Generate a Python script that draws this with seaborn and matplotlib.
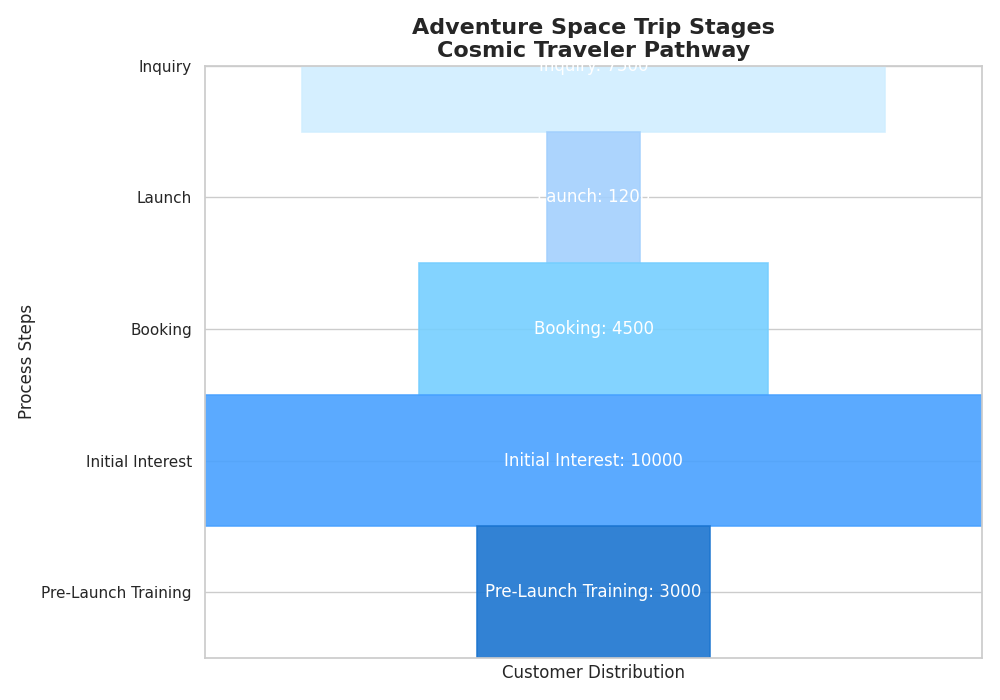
import matplotlib
matplotlib.use("Agg")
import matplotlib.pyplot as plt
import seaborn as sns
import pandas as pd

stages = ["Inquiry", "Launch", "Booking", "Initial Interest", "Pre-Launch Training"]
customers = [7500, 1200, 4500, 10000, 3000]
colors = ["#D1EEFF", "#A3D0FD", "#76CFFF", "#49A1FF", "#1C75D0"]

df = pd.DataFrame({"stage": stages, "customers": customers})

sns.set_theme(style="whitegrid")
plt.rcParams['font.family'] = ['DejaVu Sans']

fig, ax = plt.subplots(figsize=(10, 7), dpi=100)
fig.subplots_adjust(left=0.205, right=0.982, top=0.906, bottom=0.06)

sns.barplot(data=df, x="customers", y="stage", hue="stage", palette=colors,
            order=stages, orient="h", width=1.0, alpha=0.9, saturation=1,
            legend=False, ax=ax)

# center each bar to get the funnel shape
for patch, col in zip(ax.patches, colors):
    w = patch.get_width()
    patch.set_x(-w / 2)
    patch.set_edgecolor(col)
    patch.set_linewidth(1.2)

for i, (s, v) in enumerate(zip(stages, customers)):
    ax.text(0, i, f"{s}: {v}", ha="center", va="center", color="white", fontsize=12)

ax.set_xlim(-max(customers) / 2, max(customers) / 2)
ax.set_ylim(4.5, 0)
ax.set_xticks([])
ax.set_axisbelow(True)
ax.grid(axis="y", visible=True, color="#cccccc", linewidth=1)
ax.grid(axis="x", visible=False)
ax.set_xlabel("Customer Distribution", fontsize=12)
ax.set_ylabel("Process Steps", fontsize=12)
ax.tick_params(axis="y", labelsize=11)
ax.set_title("Adventure Space Trip Stages\nCosmic Traveler Pathway", fontsize=16,
             fontweight="bold")

fig.savefig("out.png", dpi=100)
